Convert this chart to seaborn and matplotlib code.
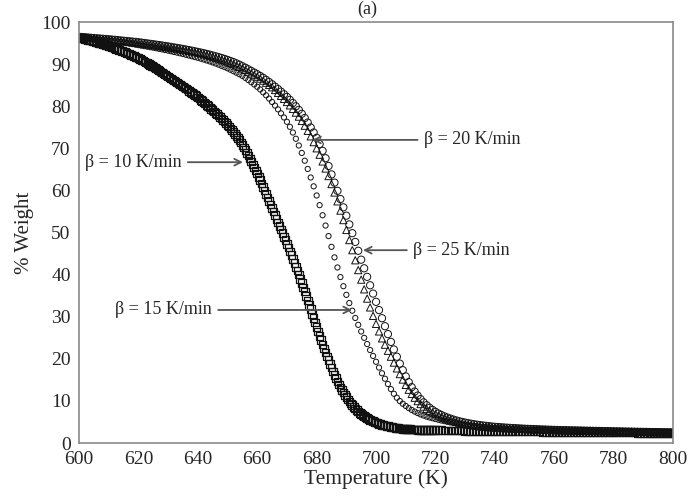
import numpy as np
import pandas as pd
import matplotlib
matplotlib.use("Agg")
import matplotlib.pyplot as plt
import seaborn as sns

# Temperature sampling (K); the slow run is logged twice as densely
temp_10_fine = np.arange(600.0, 720.0, 0.5)
temp_10_tail = np.arange(720.0, 801.0, 1.0)
temp_1k = np.arange(600.0, 801.0, 1.0)

# % weight, beta = 10 K/min (0.5 K steps to 719.5 K, then 1 K steps)
weight_10 = [
    96.30, 96.22, 96.14, 96.05, 95.96, 95.87, 95.78, 95.68, 95.58, 95.49,
    95.40, 95.30, 95.19, 95.08, 94.97, 94.86, 94.75, 94.64, 94.53, 94.42,
    94.30, 94.18, 94.05, 93.92, 93.79, 93.66, 93.53, 93.40, 93.27, 93.14,
    93.00, 92.85, 92.70, 92.54, 92.38, 92.22, 92.06, 91.90, 91.73, 91.57,
    91.40, 91.21, 91.02, 90.82, 90.62, 90.42, 90.22, 90.02, 89.82, 89.61,
    89.40, 89.18, 88.96, 88.73, 88.50, 88.27, 88.04, 87.80, 87.56, 87.33,
    87.10, 86.86, 86.62, 86.38, 86.14, 85.90, 85.66, 85.42, 85.18, 84.94,
    84.70, 84.45, 84.19, 83.93, 83.67, 83.41, 83.15, 82.89, 82.63, 82.37,
    82.10, 81.81, 81.52, 81.22, 80.92, 80.62, 80.32, 80.02, 79.71, 79.40,
    79.10, 78.77, 78.44, 78.10, 77.76, 77.41, 77.06, 76.70, 76.34, 75.97,
    75.60, 75.18, 74.75, 74.31, 73.86, 73.40, 72.93, 72.45, 71.96, 71.39,
    70.80, 70.20, 69.58, 68.94, 68.28, 67.60, 66.90, 66.18, 65.46, 64.73,
    64.00, 63.22, 62.43, 61.62, 60.80, 59.97, 59.14, 58.31, 57.48, 56.64,
    55.80, 54.96, 54.11, 53.26, 52.41, 51.56, 50.71, 49.86, 49.00, 48.15,
    47.30, 46.42, 45.53, 44.63, 43.72, 42.80, 41.87, 40.93, 39.98, 39.00,
    38.00, 36.98, 35.95, 34.91, 33.86, 32.81, 31.76, 30.71, 29.65, 28.59,
    27.50, 26.45, 25.42, 24.41, 23.42, 22.45, 21.50, 20.57, 19.66, 18.77,
    17.90, 17.02, 16.18, 15.38, 14.62, 13.90, 13.22, 12.58, 11.98, 11.42,
    10.90, 10.38, 9.89, 9.43, 9.00, 8.60, 8.22, 7.86, 7.52, 7.20,
    6.90, 6.62, 6.36, 6.12, 5.90, 5.70, 5.51, 5.33, 5.16, 5.00,
    4.85, 4.71, 4.58, 4.46, 4.35, 4.25, 4.15, 4.06, 3.97, 3.89,
    3.81, 3.74, 3.68, 3.62, 3.57, 3.52, 3.48, 3.44, 3.40, 3.37,
    3.34, 3.31, 3.28, 3.26, 3.24, 3.22, 3.20, 3.18, 3.16, 3.15,
    3.14, 3.13, 3.12, 3.11, 3.10, 3.09, 3.08, 3.07, 3.06, 3.05,
    3.04, 3.03, 3.02, 3.00, 2.99, 2.98, 2.97, 2.96, 2.94, 2.93,
    2.92, 2.91, 2.90, 2.89, 2.88, 2.87, 2.86, 2.85, 2.84, 2.83,
    2.82, 2.81, 2.80, 2.79, 2.78, 2.77, 2.76, 2.75, 2.74, 2.74,
    2.73, 2.72, 2.71, 2.70, 2.69, 2.69, 2.68, 2.67, 2.66, 2.66,
    2.65, 2.64, 2.63, 2.63, 2.62, 2.61, 2.60, 2.60, 2.59, 2.58,
    2.58, 2.57, 2.56, 2.56, 2.55, 2.54, 2.53, 2.53, 2.52, 2.51,
    2.51, 2.50, 2.49, 2.49, 2.48, 2.47, 2.46, 2.46, 2.45, 2.44,
    2.44, 2.43, 2.42, 2.42, 2.41, 2.40, 2.39, 2.39, 2.38, 2.37,
    2.37,
]

# % weight, beta = 15 K/min (1 K steps, 600-800 K)
weight_15 = [
    96.40, 96.32, 96.24, 96.16, 96.08, 96.00, 95.92, 95.84, 95.76, 95.68,
    95.60, 95.51, 95.41, 95.31, 95.21, 95.10, 94.99, 94.87, 94.75, 94.63,
    94.50, 94.38, 94.26, 94.14, 94.02, 93.90, 93.77, 93.63, 93.49, 93.35,
    93.20, 93.05, 92.89, 92.73, 92.57, 92.40, 92.22, 92.04, 91.86, 91.68,
    91.50, 91.30, 91.09, 90.87, 90.64, 90.40, 90.14, 89.87, 89.59, 89.30,
    89.00, 88.67, 88.32, 87.96, 87.59, 87.20, 86.72, 86.22, 85.70, 85.16,
    84.60, 83.98, 83.30, 82.58, 81.81, 81.00, 80.15, 79.25, 78.31, 77.33,
    76.30, 75.10, 73.75, 72.27, 70.67, 68.90, 67.05, 65.10, 63.07, 60.97,
    58.80, 56.50, 54.10, 51.65, 49.15, 46.60, 44.10, 41.70, 39.42, 37.25,
    35.20, 33.25, 31.43, 29.71, 28.07, 26.50, 24.98, 23.51, 22.08, 20.68,
    19.30, 17.92, 16.57, 15.27, 14.01, 12.80, 11.70, 10.75, 9.97, 9.33,
    8.80, 8.30, 7.86, 7.47, 7.12, 6.80, 6.52, 6.28, 6.07, 5.88,
    5.70, 5.52, 5.35, 5.19, 5.04, 4.90, 4.77, 4.65, 4.53, 4.42,
    4.30, 4.21, 4.13, 4.05, 3.97, 3.90, 3.84, 3.78, 3.72, 3.66,
    3.60, 3.56, 3.52, 3.48, 3.44, 3.40, 3.36, 3.32, 3.28, 3.24,
    3.20, 3.18, 3.16, 3.14, 3.12, 3.10, 3.08, 3.06, 3.04, 3.02,
    3.00, 2.98, 2.97, 2.95, 2.94, 2.92, 2.91, 2.89, 2.88, 2.86,
    2.85, 2.83, 2.82, 2.80, 2.79, 2.77, 2.76, 2.74, 2.73, 2.71,
    2.70, 2.69, 2.68, 2.67, 2.66, 2.65, 2.64, 2.63, 2.62, 2.61,
    2.60, 2.58, 2.57, 2.55, 2.54, 2.52, 2.51, 2.49, 2.48, 2.46,
    2.45,
]

# % weight, beta = 20 K/min (1 K steps, 600-800 K)
weight_20 = [
    96.40, 96.35, 96.29, 96.23, 96.17, 96.11, 96.05, 95.99, 95.93, 95.87,
    95.80, 95.73, 95.65, 95.57, 95.49, 95.41, 95.33, 95.25, 95.17, 95.09,
    95.00, 94.91, 94.82, 94.72, 94.62, 94.52, 94.42, 94.32, 94.21, 94.11,
    94.00, 93.89, 93.77, 93.65, 93.53, 93.40, 93.27, 93.13, 92.99, 92.85,
    92.70, 92.53, 92.35, 92.16, 91.96, 91.75, 91.53, 91.30, 91.06, 90.83,
    90.60, 90.30, 89.99, 89.67, 89.34, 89.00, 88.62, 88.22, 87.80, 87.40,
    87.00, 86.55, 86.07, 85.57, 85.05, 84.50, 83.85, 83.17, 82.46, 81.74,
    81.00, 80.20, 79.36, 78.47, 77.52, 76.50, 75.36, 74.14, 72.84, 71.46,
    70.00, 68.47, 66.87, 65.20, 63.40, 61.50, 59.50, 57.40, 55.20, 52.95,
    50.60, 48.20, 45.80, 43.40, 41.07, 38.80, 36.50, 34.30, 32.20, 30.20,
    28.30, 26.50, 24.85, 23.35, 21.90, 20.50, 19.10, 17.72, 16.37, 15.07,
    13.80, 12.65, 11.65, 10.75, 9.95, 9.25, 8.65, 8.13, 7.67, 7.25,
    6.87, 6.53, 6.22, 5.94, 5.68, 5.44, 5.22, 5.02, 4.84, 4.67,
    4.51, 4.38, 4.26, 4.15, 4.05, 3.96, 3.88, 3.81, 3.75, 3.70,
    3.65, 3.61, 3.57, 3.53, 3.49, 3.46, 3.42, 3.39, 3.36, 3.33,
    3.30, 3.27, 3.25, 3.22, 3.20, 3.17, 3.15, 3.13, 3.10, 3.08,
    3.06, 3.04, 3.03, 3.01, 3.00, 2.98, 2.96, 2.95, 2.93, 2.92,
    2.90, 2.89, 2.87, 2.86, 2.84, 2.83, 2.82, 2.80, 2.79, 2.77,
    2.76, 2.75, 2.73, 2.72, 2.70, 2.69, 2.68, 2.66, 2.65, 2.63,
    2.62, 2.61, 2.60, 2.58, 2.57, 2.56, 2.55, 2.54, 2.53, 2.51,
    2.50,
]

# % weight, beta = 25 K/min (1 K steps, 600-800 K)
weight_25 = [
    96.50, 96.44, 96.38, 96.32, 96.26, 96.20, 96.14, 96.08, 96.02, 95.96,
    95.90, 95.84, 95.77, 95.70, 95.63, 95.56, 95.49, 95.42, 95.35, 95.28,
    95.20, 95.11, 95.02, 94.92, 94.82, 94.72, 94.62, 94.52, 94.42, 94.31,
    94.20, 94.09, 93.97, 93.85, 93.73, 93.60, 93.47, 93.33, 93.19, 93.05,
    92.90, 92.75, 92.59, 92.42, 92.24, 92.05, 91.86, 91.66, 91.45, 91.23,
    91.00, 90.74, 90.47, 90.18, 89.86, 89.50, 89.14, 88.76, 88.38, 87.99,
    87.60, 87.18, 86.74, 86.24, 85.74, 85.20, 84.64, 84.06, 83.46, 82.84,
    82.20, 81.50, 80.76, 79.98, 79.13, 78.20, 77.20, 76.12, 74.96, 73.76,
    72.50, 71.00, 69.40, 67.65, 65.80, 63.80, 61.85, 59.90, 57.95, 55.98,
    54.00, 51.92, 49.84, 47.76, 45.66, 43.55, 41.50, 39.47, 37.47, 35.49,
    33.53, 31.58, 29.65, 27.75, 25.87, 24.02, 22.22, 20.50, 18.86, 17.30,
    15.82, 14.47, 13.27, 12.22, 11.27, 10.42, 9.66, 8.98, 8.38, 7.86,
    7.40, 7.00, 6.65, 6.33, 6.05, 5.80, 5.57, 5.36, 5.17, 5.00,
    4.85, 4.71, 4.58, 4.46, 4.35, 4.25, 4.16, 4.08, 4.00, 3.92,
    3.85, 3.80, 3.75, 3.70, 3.65, 3.60, 3.56, 3.52, 3.48, 3.44,
    3.40, 3.37, 3.34, 3.31, 3.28, 3.25, 3.22, 3.20, 3.17, 3.15,
    3.12, 3.10, 3.08, 3.06, 3.05, 3.03, 3.01, 3.00, 2.98, 2.97,
    2.95, 2.93, 2.92, 2.90, 2.89, 2.87, 2.86, 2.84, 2.83, 2.81,
    2.79, 2.78, 2.76, 2.75, 2.73, 2.72, 2.71, 2.69, 2.68, 2.66,
    2.65, 2.64, 2.62, 2.61, 2.60, 2.59, 2.57, 2.56, 2.55, 2.53,
    2.52,
]

rate_labels = ["β = 10 K/min", "β = 15 K/min", "β = 20 K/min", "β = 25 K/min"]
x_ticks = list(range(600, 801, 20))
y_ticks = list(range(0, 101, 10))

sns.set_style("white")
plt.rcParams["font.family"] = ["Liberation Serif", "DejaVu Serif"]

TEXT = "#262626"
SPINE = "#8a8a8a"

fig = plt.figure(figsize=(6.90, 4.99), dpi=100)
ax = fig.add_axes([0.1145, 0.1122, 0.861, 0.8437])

frames = [
    pd.DataFrame({"Temperature": np.concatenate([temp_10_fine, temp_10_tail]),
                  "Weight": weight_10}),
    pd.DataFrame({"Temperature": temp_1k, "Weight": weight_15}),
    pd.DataFrame({"Temperature": temp_1k, "Weight": weight_20}),
    pd.DataFrame({"Temperature": temp_1k, "Weight": weight_25}),
]
styles = [
    dict(marker="s", s=30, linewidth=0.9),
    dict(marker="o", s=14, linewidth=0.7),
    dict(marker="^", s=27, linewidth=0.7),
    dict(marker="o", s=27, linewidth=0.7),
]
for frame, style in zip(frames, styles):
    sns.scatterplot(data=frame, x="Temperature", y="Weight", ax=ax,
                    facecolors="none", edgecolor="#111111", legend=False,
                    **style)

ax.set_xlim(600, 800)
ax.set_ylim(0, 100)
ax.set_xticks(x_ticks)
ax.set_yticks(y_ticks)
ax.tick_params(axis="both", direction="out", length=4, width=1,
               color=SPINE, labelsize=14, labelcolor=TEXT, pad=2)
for side in ["left", "right", "top", "bottom"]:
    ax.spines[side].set_visible(True)
    ax.spines[side].set_color(SPINE)
    ax.spines[side].set_linewidth(1.2)

ax.set_xlabel("Temperature (K)", fontsize=15.5, color=TEXT, labelpad=1)
ax.set_ylabel("% Weight", fontsize=15, color=TEXT, labelpad=5)

arrow = dict(arrowstyle="->", color="#555555", lw=1.3,
             shrinkA=2, shrinkB=0, mutation_scale=12)
# (label, arrow tip, text anchor, horizontal alignment)
callouts = [
    (rate_labels[0], (655.2, 66.7), (634.6, 66.7), "right"),
    (rate_labels[1], (691.9, 31.6), (644.8, 31.6), "right"),
    (rate_labels[2], (678.5, 72.0), (716.0, 72.0), "left"),
    (rate_labels[3], (695.6, 45.8), (712.4, 45.8), "left"),
]
for text, tip, anchor, ha in callouts:
    ax.annotate(text, xy=tip, xytext=anchor, ha=ha, va="center",
                fontsize=13, color=TEXT, arrowprops=arrow)

fig.text(367 / 690, 0.999, "(a)", ha="center", va="top",
         fontsize=13, color=TEXT)

fig.savefig("out.png", dpi=100)
